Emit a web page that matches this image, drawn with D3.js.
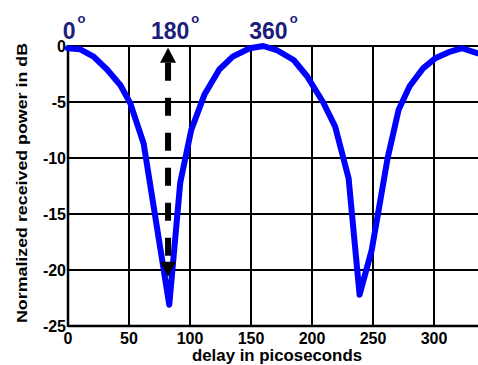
<!DOCTYPE html>
<html>
<head>
<meta charset="utf-8">
<script src="https://cdn.jsdelivr.net/npm/d3@7"></script>
<style>
  body { margin: 0; background: #fff; }
  text { font-family: "Liberation Sans", Arial, sans-serif; font-weight: bold; }
</style>
</head>
<body>
<div id="chart"></div>
<script>
// measured curve, delay (ps) vs normalized power (dB)
var delay = [0, 10, 21, 32, 43, 51, 62, 83, 92, 101, 112, 124, 135, 149, 160, 171, 185, 196, 201, 209, 219, 230, 239, 249, 262, 271, 280, 291, 301, 312, 323, 336];
var power = [-0.2, -0.3, -0.95, -2.1, -3.5, -5.1, -8.7, -23.1, -12.2, -7.5, -4.3, -2.1, -0.95, -0.2, 0, -0.36, -1.25, -2.7, -3.6, -5, -7.2, -11.8, -22.2, -18.2, -10, -5.7, -3.6, -2.0, -1.1, -0.55, -0.2, -0.65];

var xTicks = [0, 50, 100, 150, 200, 250, 300];
var yTicks = [0, -5, -10, -15, -20, -25];

// phase labels above the plot
var phaseLabels = ["0", "180", "360"];
var phaseX = [-4.3, 68, 148.6];

// dashed double arrow at the first null
var arrowX = 82;
var arrowY = [-0.15, -20.6];

var width = 478, height = 365;
var margin = {left: 68, top: 46};

var svg = d3.select("#chart").append("svg")
  .attr("width", width)
  .attr("height", height);

var x = d3.scaleLinear().domain([0, 340]).range([margin.left, margin.left + 1.22 * 340]);
var y = d3.scaleLinear().domain([-25, 0]).range([326, margin.top]);

// grid
svg.append("g").selectAll("line.v")
  .data(xTicks).enter().append("line")
  .attr("x1", function(d) { return x(d); })
  .attr("x2", function(d) { return x(d); })
  .attr("y1", y(0)).attr("y2", y(-25))
  .style("stroke", "#000").style("stroke-width", 2);

svg.append("g").selectAll("line.h")
  .data(yTicks).enter().append("line")
  .attr("x1", x(0)).attr("x2", x(340))
  .attr("y1", function(d) { return y(d); })
  .attr("y2", function(d) { return y(d); })
  .style("stroke", "#000").style("stroke-width", 2);

// frame
svg.append("line").attr("x1", x(0)).attr("x2", x(0)).attr("y1", y(0) - 1).attr("y2", y(-25) + 1)
  .style("stroke", "#000").style("stroke-width", 2.5);
svg.append("line").attr("x1", x(0)).attr("x2", x(340)).attr("y1", y(-25)).attr("y2", y(-25))
  .style("stroke", "#000").style("stroke-width", 2.5);

// tick labels
svg.append("g").selectAll("text")
  .data(xTicks).enter().append("text")
  .attr("x", function(d) { return x(d); })
  .attr("y", 344)
  .attr("text-anchor", "middle")
  .style("font-size", "16px")
  .text(function(d) { return d; });

svg.append("g").selectAll("text")
  .data(yTicks).enter().append("text")
  .attr("x", 66)
  .attr("y", function(d) { return y(d) + 6; })
  .attr("text-anchor", "end")
  .style("font-size", "16px")
  .text(function(d) { return d; });

// axis titles
svg.append("text")
  .attr("x", 277).attr("y", 361)
  .attr("text-anchor", "middle")
  .attr("textLength", 170).attr("lengthAdjust", "spacingAndGlyphs")
  .style("font-size", "16px")
  .text("delay in picoseconds");

svg.append("text")
  .attr("transform", "translate(27,183) rotate(-90)")
  .attr("text-anchor", "middle")
  .attr("textLength", 280).attr("lengthAdjust", "spacingAndGlyphs")
  .style("font-size", "15px")
  .text("Normalized received power  in dB");

// curve
var line = d3.line()
  .x(function(d, i) { return x(delay[i]); })
  .y(function(d) { return y(d); });

svg.append("path")
  .datum(power)
  .attr("d", line)
  .style("fill", "none")
  .style("stroke", "#0000ff")
  .style("stroke-width", 6)
  .style("stroke-linejoin", "round")
  .style("stroke-linecap", "round");

// arrow
var ax = x(arrowX), aTop = y(arrowY[0]), aBot = y(arrowY[1]);
svg.append("line")
  .attr("x1", ax).attr("x2", ax)
  .attr("y1", aTop + 15).attr("y2", aBot - 15)
  .style("stroke", "#000").style("stroke-width", 6)
  .style("stroke-dasharray", "18,17");
svg.append("polygon")
  .attr("points", [[ax, aTop], [ax - 8, aTop + 15], [ax + 8, aTop + 15]].join(" "))
  .style("fill", "#000");
svg.append("polygon")
  .attr("points", [[ax, aBot], [ax - 8, aBot - 15], [ax + 8, aBot - 15]].join(" "))
  .style("fill", "#000");

// phase labels
var lab = svg.append("g").selectAll("text")
  .data(phaseLabels).enter().append("text")
  .attr("x", function(d, i) { return x(phaseX[i]); })
  .attr("y", 39)
  .style("font-size", "23px")
  .style("fill", "#1c1c7a");
lab.append("tspan").text(function(d) { return d; });
lab.append("tspan")
  .attr("dx", 2).attr("dy", -16)
  .style("font-size", "13px")
  .text("o");
</script>
</body>
</html>
